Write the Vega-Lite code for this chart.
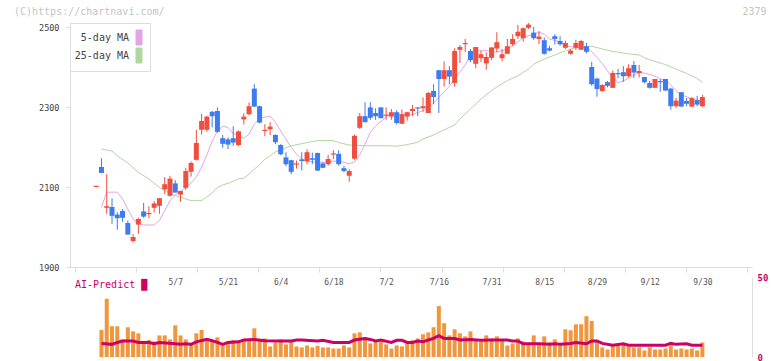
{
  "$schema": "https://vega.github.io/schema/vega-lite/v6.json",
  "background": "white",
  "padding": {"left": 14, "top": 6, "right": 2, "bottom": 2},
  "spacing": 0,
  "config": {
    "view": {"stroke": null},
    "font": "DejaVu Sans Mono",
    "axis": {"labelFont": "DejaVu Sans Mono", "grid": false, "titleFont": "DejaVu Sans Mono"},
    "legend": {"labelFont": "DejaVu Sans Mono"},
    "title": {"font": "DejaVu Sans Mono", "fontWeight": "normal"}
  },
  "datasets": {
    "candles": [
      {"i":0,"o":2100,"h":2103,"l":2100,"c":2103},
      {"i":1,"o":2150,"h":2172,"l":2135,"c":2135},
      {"i":2,"o":2048,"h":2132,"l":2033,"c":2052},
      {"i":3,"o":2050,"h":2072,"l":2008,"c":2028},
      {"i":4,"o":2031,"h":2037,"l":1993,"c":2022},
      {"i":5,"o":2040,"h":2045,"l":2013,"c":2023},
      {"i":6,"o":2010,"h":2016,"l":1981,"c":1981},
      {"i":7,"o":1965,"h":1982,"l":1961,"c":1975},
      {"i":8,"o":2006,"h":2023,"l":1983,"c":2020},
      {"i":9,"o":2039,"h":2060,"l":2023,"c":2026},
      {"i":10,"o":2032,"h":2052,"l":2022,"c":2035},
      {"i":11,"o":2048,"h":2065,"l":2036,"c":2059},
      {"i":12,"o":2053,"h":2072,"l":2033,"c":2072},
      {"i":13,"o":2094,"h":2125,"l":2082,"c":2107},
      {"i":14,"o":2078,"h":2128,"l":2076,"c":2121},
      {"i":15,"o":2109,"h":2117,"l":2086,"c":2086},
      {"i":16,"o":2081,"h":2090,"l":2063,"c":2090},
      {"i":17,"o":2098,"h":2148,"l":2093,"c":2140},
      {"i":18,"o":2138,"h":2164,"l":2126,"c":2160},
      {"i":19,"o":2168,"h":2243,"l":2166,"c":2210},
      {"i":20,"o":2243,"h":2283,"l":2231,"c":2265},
      {"i":21,"o":2243,"h":2278,"l":2238,"c":2276},
      {"i":22,"o":2288,"h":2290,"l":2249,"c":2277},
      {"i":23,"o":2290,"h":2299,"l":2236,"c":2238},
      {"i":24,"o":2222,"h":2230,"l":2198,"c":2208},
      {"i":25,"o":2219,"h":2224,"l":2195,"c":2206},
      {"i":26,"o":2222,"h":2252,"l":2203,"c":2211},
      {"i":27,"o":2205,"h":2241,"l":2202,"c":2239},
      {"i":28,"o":2269,"h":2284,"l":2256,"c":2276},
      {"i":29,"o":2282,"h":2311,"l":2279,"c":2302},
      {"i":30,"o":2346,"h":2357,"l":2300,"c":2301},
      {"i":31,"o":2302,"h":2303,"l":2259,"c":2261},
      {"i":32,"o":2240,"h":2257,"l":2227,"c":2243},
      {"i":33,"o":2244,"h":2262,"l":2230,"c":2251},
      {"i":34,"o":2230,"h":2232,"l":2207,"c":2212},
      {"i":35,"o":2205,"h":2207,"l":2180,"c":2182},
      {"i":36,"o":2174,"h":2187,"l":2152,"c":2157},
      {"i":37,"o":2167,"h":2167,"l":2132,"c":2138},
      {"i":38,"o":2156,"h":2166,"l":2146,"c":2159},
      {"i":39,"o":2169,"h":2187,"l":2141,"c":2165},
      {"i":40,"o":2164,"h":2194,"l":2157,"c":2187},
      {"i":41,"o":2172,"h":2186,"l":2157,"c":2168},
      {"i":42,"o":2185,"h":2186,"l":2140,"c":2141},
      {"i":43,"o":2159,"h":2162,"l":2147,"c":2148},
      {"i":44,"o":2157,"h":2180,"l":2153,"c":2170},
      {"i":45,"o":2181,"h":2192,"l":2170,"c":2184},
      {"i":46,"o":2183,"h":2192,"l":2153,"c":2157},
      {"i":47,"o":2147,"h":2153,"l":2137,"c":2140},
      {"i":48,"o":2128,"h":2145,"l":2113,"c":2140},
      {"i":49,"o":2171,"h":2231,"l":2168,"c":2228},
      {"i":50,"o":2248,"h":2285,"l":2245,"c":2277},
      {"i":51,"o":2277,"h":2312,"l":2262,"c":2262},
      {"i":52,"o":2299,"h":2312,"l":2268,"c":2273},
      {"i":53,"o":2285,"h":2297,"l":2268,"c":2277},
      {"i":54,"o":2299,"h":2299,"l":2272,"c":2272},
      {"i":55,"o":2278,"h":2299,"l":2268,"c":2281},
      {"i":56,"o":2276,"h":2295,"l":2268,"c":2287},
      {"i":57,"o":2287,"h":2292,"l":2256,"c":2260},
      {"i":58,"o":2258,"h":2294,"l":2258,"c":2282},
      {"i":59,"o":2276,"h":2288,"l":2266,"c":2287},
      {"i":60,"o":2290,"h":2305,"l":2277,"c":2295},
      {"i":61,"o":2299,"h":2299,"l":2277,"c":2296},
      {"i":62,"o":2297,"h":2324,"l":2288,"c":2302},
      {"i":63,"o":2285,"h":2338,"l":2285,"c":2335},
      {"i":64,"o":2340,"h":2357,"l":2307,"c":2325},
      {"i":65,"o":2392,"h":2392,"l":2285,"c":2370},
      {"i":66,"o":2370,"h":2414,"l":2351,"c":2392},
      {"i":67,"o":2392,"h":2402,"l":2357,"c":2376},
      {"i":68,"o":2360,"h":2447,"l":2351,"c":2440},
      {"i":69,"o":2443,"h":2455,"l":2410,"c":2450},
      {"i":70,"o":2457,"h":2470,"l":2437,"c":2460},
      {"i":71,"o":2440,"h":2445,"l":2412,"c":2417},
      {"i":72,"o":2408,"h":2450,"l":2397,"c":2450},
      {"i":73,"o":2422,"h":2441,"l":2412,"c":2432},
      {"i":74,"o":2409,"h":2437,"l":2393,"c":2425},
      {"i":75,"o":2423,"h":2449,"l":2417,"c":2449},
      {"i":76,"o":2446,"h":2487,"l":2437,"c":2462},
      {"i":77,"o":2422,"h":2445,"l":2414,"c":2432},
      {"i":78,"o":2433,"h":2470,"l":2433,"c":2452},
      {"i":79,"o":2457,"h":2482,"l":2452,"c":2470},
      {"i":80,"o":2477,"h":2505,"l":2470,"c":2488},
      {"i":81,"o":2472,"h":2499,"l":2463,"c":2497},
      {"i":82,"o":2498,"h":2510,"l":2495,"c":2506},
      {"i":83,"o":2486,"h":2500,"l":2468,"c":2472},
      {"i":84,"o":2470,"h":2490,"l":2457,"c":2476},
      {"i":85,"o":2467,"h":2474,"l":2431,"c":2433},
      {"i":86,"o":2447,"h":2453,"l":2439,"c":2441},
      {"i":87,"o":2477,"h":2482,"l":2456,"c":2470},
      {"i":88,"o":2465,"h":2477,"l":2453,"c":2457},
      {"i":89,"o":2448,"h":2466,"l":2445,"c":2460},
      {"i":90,"o":2433,"h":2445,"l":2431,"c":2441},
      {"i":91,"o":2448,"h":2468,"l":2443,"c":2460},
      {"i":92,"o":2443,"h":2468,"l":2443,"c":2465},
      {"i":93,"o":2452,"h":2460,"l":2434,"c":2438},
      {"i":94,"o":2400,"h":2413,"l":2353,"c":2357},
      {"i":95,"o":2371,"h":2373,"l":2326,"c":2345},
      {"i":96,"o":2340,"h":2357,"l":2338,"c":2355},
      {"i":97,"o":2362,"h":2365,"l":2349,"c":2353},
      {"i":98,"o":2348,"h":2391,"l":2348,"c":2385},
      {"i":99,"o":2385,"h":2395,"l":2372,"c":2382},
      {"i":100,"o":2387,"h":2402,"l":2363,"c":2377},
      {"i":101,"o":2377,"h":2407,"l":2374,"c":2397},
      {"i":102,"o":2405,"h":2415,"l":2373,"c":2386},
      {"i":103,"o":2385,"h":2405,"l":2374,"c":2390},
      {"i":104,"o":2375,"h":2375,"l":2359,"c":2362},
      {"i":105,"o":2360,"h":2365,"l":2346,"c":2348},
      {"i":106,"o":2348,"h":2370,"l":2348,"c":2370},
      {"i":107,"o":2365,"h":2370,"l":2338,"c":2362},
      {"i":108,"o":2370,"h":2370,"l":2341,"c":2341},
      {"i":109,"o":2346,"h":2348,"l":2293,"c":2302},
      {"i":110,"o":2302,"h":2323,"l":2298,"c":2316},
      {"i":111,"o":2337,"h":2337,"l":2301,"c":2301},
      {"i":112,"o":2315,"h":2323,"l":2302,"c":2308},
      {"i":113,"o":2301,"h":2325,"l":2300,"c":2322},
      {"i":114,"o":2317,"h":2328,"l":2302,"c":2306},
      {"i":115,"o":2302,"h":2330,"l":2300,"c":2325}
    ],
    "ma": [
      {"s":"5-day MA","i":1,"v":2049},{"s":"5-day MA","i":2,"v":2087},{"s":"5-day MA","i":4,"v":2087},{"s":"5-day MA","i":5,"v":2070},
      {"s":"5-day MA","i":6,"v":2045},{"s":"5-day MA","i":7,"v":2020},{"s":"5-day MA","i":8,"v":2008},{"s":"5-day MA","i":9,"v":2005},
      {"s":"5-day MA","i":11,"v":2005},{"s":"5-day MA","i":12,"v":2016},{"s":"5-day MA","i":13,"v":2041},{"s":"5-day MA","i":14,"v":2066},
      {"s":"5-day MA","i":15,"v":2080},{"s":"5-day MA","i":16,"v":2090},{"s":"5-day MA","i":17,"v":2098},{"s":"5-day MA","i":18,"v":2110},
      {"s":"5-day MA","i":19,"v":2125},{"s":"5-day MA","i":20,"v":2150},{"s":"5-day MA","i":21,"v":2180},{"s":"5-day MA","i":22,"v":2215},
      {"s":"5-day MA","i":23,"v":2240},{"s":"5-day MA","i":24,"v":2252},{"s":"5-day MA","i":25,"v":2249},{"s":"5-day MA","i":26,"v":2234},
      {"s":"5-day MA","i":28,"v":2222},{"s":"5-day MA","i":29,"v":2232},{"s":"5-day MA","i":30,"v":2257},{"s":"5-day MA","i":31,"v":2272},
      {"s":"5-day MA","i":33,"v":2277},{"s":"5-day MA","i":34,"v":2262},{"s":"5-day MA","i":35,"v":2240},{"s":"5-day MA","i":36,"v":2220},
      {"s":"5-day MA","i":37,"v":2199},{"s":"5-day MA","i":38,"v":2182},{"s":"5-day MA","i":39,"v":2170},{"s":"5-day MA","i":40,"v":2164},
      {"s":"5-day MA","i":42,"v":2162},{"s":"5-day MA","i":44,"v":2162},{"s":"5-day MA","i":45,"v":2165},{"s":"5-day MA","i":47,"v":2162},
      {"s":"5-day MA","i":48,"v":2158},{"s":"5-day MA","i":49,"v":2163},{"s":"5-day MA","i":50,"v":2180},{"s":"5-day MA","i":51,"v":2207},
      {"s":"5-day MA","i":52,"v":2237},{"s":"5-day MA","i":53,"v":2252},{"s":"5-day MA","i":55,"v":2275},{"s":"5-day MA","i":56,"v":2282},
      {"s":"5-day MA","i":58,"v":2281},{"s":"5-day MA","i":60,"v":2281},{"s":"5-day MA","i":62,"v":2291},{"s":"5-day MA","i":63,"v":2297},
      {"s":"5-day MA","i":64,"v":2310},{"s":"5-day MA","i":66,"v":2337},{"s":"5-day MA","i":67,"v":2352},{"s":"5-day MA","i":69,"v":2388},
      {"s":"5-day MA","i":70,"v":2405},{"s":"5-day MA","i":71,"v":2430},{"s":"5-day MA","i":72,"v":2440},{"s":"5-day MA","i":74,"v":2441},
      {"s":"5-day MA","i":76,"v":2437},{"s":"5-day MA","i":78,"v":2445},{"s":"5-day MA","i":80,"v":2462},{"s":"5-day MA","i":81,"v":2474},
      {"s":"5-day MA","i":83,"v":2482},{"s":"5-day MA","i":84,"v":2487},{"s":"5-day MA","i":85,"v":2482},{"s":"5-day MA","i":86,"v":2470},
      {"s":"5-day MA","i":88,"v":2463},{"s":"5-day MA","i":89,"v":2453},{"s":"5-day MA","i":91,"v":2449},{"s":"5-day MA","i":93,"v":2449},
      {"s":"5-day MA","i":94,"v":2438},{"s":"5-day MA","i":95,"v":2424},{"s":"5-day MA","i":96,"v":2409},{"s":"5-day MA","i":97,"v":2390},
      {"s":"5-day MA","i":98,"v":2374},{"s":"5-day MA","i":99,"v":2361},{"s":"5-day MA","i":100,"v":2365},{"s":"5-day MA","i":102,"v":2380},
      {"s":"5-day MA","i":103,"v":2386},{"s":"5-day MA","i":104,"v":2385},{"s":"5-day MA","i":106,"v":2377},{"s":"5-day MA","i":107,"v":2371},
      {"s":"5-day MA","i":108,"v":2366},{"s":"5-day MA","i":109,"v":2355},{"s":"5-day MA","i":110,"v":2341},{"s":"5-day MA","i":111,"v":2330},
      {"s":"5-day MA","i":112,"v":2326},{"s":"5-day MA","i":113,"v":2320},{"s":"5-day MA","i":114,"v":2317},{"s":"5-day MA","i":115,"v":2316},
      {"s":"25-day MA","i":1,"v":2195},{"s":"25-day MA","i":3,"v":2190},{"s":"25-day MA","i":4,"v":2178},{"s":"25-day MA","i":6,"v":2160},
      {"s":"25-day MA","i":8,"v":2137},{"s":"25-day MA","i":10,"v":2120},{"s":"25-day MA","i":12,"v":2099},{"s":"25-day MA","i":14,"v":2084},
      {"s":"25-day MA","i":15,"v":2079},{"s":"25-day MA","i":17,"v":2070},{"s":"25-day MA","i":18,"v":2066},{"s":"25-day MA","i":20,"v":2066},
      {"s":"25-day MA","i":22,"v":2085},{"s":"25-day MA","i":23,"v":2099},{"s":"25-day MA","i":24,"v":2105},{"s":"25-day MA","i":25,"v":2109},
      {"s":"25-day MA","i":27,"v":2120},{"s":"25-day MA","i":28,"v":2122},{"s":"25-day MA","i":29,"v":2132},{"s":"25-day MA","i":30,"v":2145},
      {"s":"25-day MA","i":31,"v":2155},{"s":"25-day MA","i":32,"v":2170},{"s":"25-day MA","i":33,"v":2178},{"s":"25-day MA","i":34,"v":2188},
      {"s":"25-day MA","i":35,"v":2193},{"s":"25-day MA","i":37,"v":2203},{"s":"25-day MA","i":40,"v":2211},{"s":"25-day MA","i":42,"v":2216},
      {"s":"25-day MA","i":45,"v":2216},{"s":"25-day MA","i":46,"v":2211},{"s":"25-day MA","i":48,"v":2205},{"s":"25-day MA","i":51,"v":2203},
      {"s":"25-day MA","i":55,"v":2203},{"s":"25-day MA","i":57,"v":2202},{"s":"25-day MA","i":59,"v":2206},{"s":"25-day MA","i":61,"v":2212},
      {"s":"25-day MA","i":62,"v":2220},{"s":"25-day MA","i":64,"v":2230},{"s":"25-day MA","i":66,"v":2243},{"s":"25-day MA","i":68,"v":2255},
      {"s":"25-day MA","i":69,"v":2270},{"s":"25-day MA","i":71,"v":2295},{"s":"25-day MA","i":73,"v":2320},{"s":"25-day MA","i":75,"v":2341},
      {"s":"25-day MA","i":76,"v":2350},{"s":"25-day MA","i":78,"v":2366},{"s":"25-day MA","i":80,"v":2378},{"s":"25-day MA","i":82,"v":2395},
      {"s":"25-day MA","i":83,"v":2407},{"s":"25-day MA","i":85,"v":2420},{"s":"25-day MA","i":87,"v":2430},{"s":"25-day MA","i":89,"v":2441},
      {"s":"25-day MA","i":91,"v":2448},{"s":"25-day MA","i":94,"v":2452},{"s":"25-day MA","i":96,"v":2445},{"s":"25-day MA","i":98,"v":2439},
      {"s":"25-day MA","i":100,"v":2435},{"s":"25-day MA","i":101,"v":2433},{"s":"25-day MA","i":103,"v":2430},{"s":"25-day MA","i":104,"v":2423},
      {"s":"25-day MA","i":106,"v":2414},{"s":"25-day MA","i":108,"v":2406},{"s":"25-day MA","i":110,"v":2395},{"s":"25-day MA","i":112,"v":2384},
      {"s":"25-day MA","i":114,"v":2371},{"s":"25-day MA","i":115,"v":2362}
    ],
    "vol": [
      {"i":1,"v":16.9},{"i":2,"v":36.4},{"i":3,"v":19.2},{"i":4,"v":19.2},{"i":5,"v":11.0},{"i":6,"v":18.6},{"i":7,"v":16.0},{"i":8,"v":14.8},
      {"i":9,"v":9.1},{"i":10,"v":10.6},{"i":11,"v":9.7},{"i":12,"v":13.5},{"i":13,"v":13.5},{"i":14,"v":11.0},{"i":15,"v":19.8},{"i":16,"v":13.5},
      {"i":17,"v":11.0},{"i":18,"v":7.0},{"i":19,"v":14.8},{"i":20,"v":16.9},{"i":21,"v":11.0},{"i":22,"v":9.7},{"i":23,"v":12.3},{"i":24,"v":7.2},
      {"i":25,"v":9.7},{"i":26,"v":10.6},{"i":27,"v":9.7},{"i":28,"v":10.4},{"i":29,"v":11.0},{"i":30,"v":17.9},{"i":31,"v":10.4},{"i":32,"v":11.6},
      {"i":33,"v":6.6},{"i":34,"v":9.1},{"i":35,"v":11.0},{"i":36,"v":7.9},{"i":37,"v":9.7},{"i":38,"v":6.6},{"i":39,"v":6.0},{"i":40,"v":7.2},
      {"i":41,"v":6.0},{"i":42,"v":7.0},{"i":43,"v":6.0},{"i":44,"v":6.0},{"i":45,"v":5.3},{"i":46,"v":5.3},{"i":47,"v":7.2},{"i":48,"v":6.0},
      {"i":49,"v":14.8},{"i":50,"v":15.4},{"i":51,"v":12.3},{"i":52,"v":8.5},{"i":53,"v":9.7},{"i":54,"v":9.7},{"i":55,"v":7.9},{"i":56,"v":5.3},
      {"i":57,"v":7.2},{"i":58,"v":6.6},{"i":59,"v":8.5},{"i":60,"v":10.4},{"i":61,"v":11.6},{"i":62,"v":14.2},{"i":63,"v":15.4},{"i":64,"v":18.6},
      {"i":65,"v":31.8},{"i":66,"v":21.1},{"i":67,"v":13.5},{"i":68,"v":17.3},{"i":69,"v":14.8},{"i":70,"v":12.9},{"i":71,"v":16.0},{"i":72,"v":10.4},
      {"i":73,"v":9.7},{"i":74,"v":13.5},{"i":75,"v":11.6},{"i":76,"v":12.9},{"i":77,"v":10.4},{"i":78,"v":7.2},{"i":79,"v":8.5},{"i":80,"v":11.6},
      {"i":81,"v":9.7},{"i":82,"v":7.9},{"i":83,"v":13.5},{"i":84,"v":8.5},{"i":85,"v":12.9},{"i":86,"v":9.1},{"i":87,"v":11.0},{"i":88,"v":7.9},
      {"i":89,"v":17.3},{"i":90,"v":16.7},{"i":91,"v":20.4},{"i":92,"v":20.4},{"i":93,"v":25.5},{"i":94,"v":22.5},{"i":95,"v":9.7},{"i":96,"v":6.0},
      {"i":97,"v":4.7},{"i":98,"v":7.2},{"i":99,"v":7.9},{"i":100,"v":7.9},{"i":101,"v":6.6},{"i":102,"v":6.0},{"i":103,"v":6.0},{"i":104,"v":4.1},
      {"i":105,"v":6.0},{"i":106,"v":4.7},{"i":107,"v":4.7},{"i":108,"v":5.3},{"i":109,"v":7.2},{"i":110,"v":4.7},{"i":111,"v":5.3},{"i":112,"v":4.7},
      {"i":113,"v":5.3},{"i":114,"v":4.1},{"i":115,"v":9.1}
    ],
    "ai": [
      {"i":1,"v":8.5},{"i":3,"v":7.9},{"i":4,"v":9.1},{"i":5,"v":10},{"i":7,"v":10},{"i":8,"v":9.1},{"i":10,"v":9.1},{"i":11,"v":8.3},
      {"i":12,"v":9.1},{"i":15,"v":8.3},{"i":16,"v":7.9},{"i":17,"v":8.3},{"i":18,"v":7.9},{"i":19,"v":9.5},{"i":21,"v":11.0},{"i":22,"v":10.2},
      {"i":23,"v":9.1},{"i":24,"v":7.9},{"i":25,"v":9.1},{"i":27,"v":9.5},{"i":28,"v":10.6},{"i":30,"v":11.0},{"i":32,"v":10.2},{"i":35,"v":10},
      {"i":37,"v":10},{"i":38,"v":10.6},{"i":39,"v":10.6},{"i":42,"v":10},{"i":43,"v":10.4},{"i":45,"v":9.1},{"i":48,"v":9.1},{"i":49,"v":10.6},
      {"i":51,"v":11.6},{"i":52,"v":11.0},{"i":53,"v":10},{"i":54,"v":10.6},{"i":56,"v":9.1},{"i":57,"v":10.4},{"i":58,"v":10.4},{"i":59,"v":9.1},
      {"i":60,"v":9.1},{"i":61,"v":10},{"i":62,"v":9.5},{"i":63,"v":10.6},{"i":64,"v":11.6},{"i":65,"v":13.3},{"i":66,"v":11.6},{"i":68,"v":11.6},
      {"i":69,"v":10.6},{"i":71,"v":11.0},{"i":73,"v":10.4},{"i":75,"v":10.6},{"i":76,"v":10.6},{"i":78,"v":10.6},{"i":79,"v":10},{"i":80,"v":10},
      {"i":81,"v":8.3},{"i":84,"v":8.3},{"i":86,"v":7.9},{"i":87,"v":8.3},{"i":88,"v":7.9},{"i":90,"v":8.5},{"i":91,"v":9.1},{"i":93,"v":8.3},
      {"i":94,"v":10},{"i":95,"v":10},{"i":96,"v":8.5},{"i":98,"v":7.4},{"i":100,"v":8.3},{"i":101,"v":7.4},{"i":108,"v":7.4},{"i":109,"v":8.5},
      {"i":110,"v":7.9},{"i":112,"v":8.3},{"i":113,"v":7.4},{"i":115,"v":7.4}
    ]
  },
  "vconcat": [
    {
      "width": 682,
      "height": 244,
      "title": {
        "text": "(C)https://chartnavi.com/\u00a0\u00a0\u00a0\u00a0\u00a0\u00a0\u00a0\u00a0\u00a0\u00a0\u00a0\u00a0\u00a0\u00a0\u00a0\u00a0\u00a0\u00a0\u00a0\u00a0\u00a0\u00a0\u00a0\u00a0\u00a0\u00a0\u00a0\u00a0\u00a0\u00a0\u00a0\u00a0\u00a0\u00a0\u00a0\u00a0\u00a0\u00a0\u00a0\u00a0\u00a0\u00a0\u00a0\u00a0\u00a0\u00a0\u00a0\u00a0\u00a0\u00a0\u00a0\u00a0\u00a0\u00a0\u00a0\u00a0\u00a0\u00a0\u00a0\u00a0\u00a0\u00a0\u00a0\u00a0\u00a0\u00a0\u00a0\u00a0\u00a0\u00a0\u00a0\u00a0\u00a0\u00a0\u00a0\u00a0\u00a0\u00a0\u00a0\u00a0\u00a0\u00a0\u00a0\u00a0\u00a0\u00a0\u00a0\u00a0\u00a0\u00a0\u00a0\u00a0\u00a0\u00a0\u00a0\u00a02379",
        "anchor": "start",
        "frame": "group",
        "dx": -56,
        "offset": -2,
        "baseline": "alphabetic",
        "font": "DejaVu Sans Mono",
        "fontSize": 10,
        "fontWeight": "normal",
        "color": "#c4c4c4"
      },
      "layer": [
        {
          "data": {"name": "ma"},
          "mark": {"type": "line", "strokeWidth": 1},
          "encoding": {
            "x": {"field": "i", "type": "quantitative",
                  "scale": {"domain": [-4.02, 123.46], "nice": false, "zero": false},
                  "axis": {"title": null, "labels": false,
                           "values": [-4.02, 7.57, 19.16, 30.75, 42.34, 53.93, 65.51, 77.1, 88.69, 100.28, 111.87, 123.46],
                           "tickSize": 5, "tickColor": "#dddddd", "domainColor": "#dddddd"}},
            "y": {"field": "v", "type": "quantitative",
                  "scale": {"domain": [1900, 2510], "nice": false, "zero": false},
                  "axis": {"title": null, "values": [1900, 2100, 2300, 2500], "format": "d",
                           "tickSize": 4, "tickColor": "#dddddd", "domainColor": "#dddddd",
                           "labelColor": "#444444", "labelFontSize": 8.5, "labelPadding": 7}},
            "color": {"field": "s", "type": "nominal",
                      "scale": {"domain": ["5-day MA", "25-day MA"], "range": ["#e2a6e6", "#aed8a0"]},
                      "legend": {"orient": "top-left", "offset": 0, "title": null, "direction": "vertical",
                                 "padding": 6, "strokeColor": "#dddddd", "fillColor": "white",
                                 "labelFont": "DejaVu Sans Mono", "labelFontSize": 10, "labelColor": "#444444",
                                 "symbolType": "M-1,-2.5H1V2.5H-1Z", "symbolSize": 36,
                                 "rowPadding": -3,
                                 "encode": {"symbols": {"update": {"fill": {"scale": "color", "field": "value"},
                                                                   "stroke": {"value": "#555555"},
                                                                   "strokeWidth": {"value": 1},
                                                                   "x": {"value": 63}, "y": {"value": 8.5}}},
                                            "labels": {"update": {"x": {"value": 53}, "y": {"value": 8.5}, "align": {"value": "right"}}}}}}
          }
        },
        {
          "data": {"name": "candles"},
          "mark": {"type": "rule", "strokeWidth": 1},
          "encoding": {
            "x": {"field": "i", "type": "quantitative"},
            "y": {"field": "l", "type": "quantitative"},
            "y2": {"field": "h"},
            "color": {"condition": {"test": "datum.c >= datum.o", "value": "#f04e3e"}, "value": "#3d7cf0"}
          }
        },
        {
          "data": {"name": "candles"},
          "mark": {"type": "bar", "size": 5},
          "encoding": {
            "x": {"field": "i", "type": "quantitative"},
            "y": {"field": "o", "type": "quantitative"},
            "y2": {"field": "c"},
            "color": {"condition": {"test": "datum.c >= datum.o", "value": "#f04e3e"}, "value": "#3d7cf0"}
          }
        }
      ]
    },
    {
      "width": 682,
      "height": 80,
      "title": {
        "text": "AI-Predict █",
        "anchor": "start",
        "frame": "group",
        "orient": "top",
        "offset": -11.5,
        "dx": 5,
        "dy": 13.5,
        "baseline": "alphabetic",
        "font": "DejaVu Sans Mono",
        "fontSize": 10,
        "fontWeight": "normal",
        "color": "#cc0066"
      },
      "layer": [
        {
          "data": {"name": "vol"},
          "mark": {"type": "bar", "size": 4, "color": "#f0963c"},
          "encoding": {
            "x": {"field": "i", "type": "quantitative",
                  "scale": {"domain": [-4.02, 123.46], "nice": false, "zero": false},
                  "axis": {"orient": "top", "title": null, "domain": false, "ticks": false, "tickSize": 0,
                           "minExtent": 0, "maxExtent": 0,
                           "values": [15, 25, 35, 45, 55, 65, 75, 85, 95, 105, 115],
                           "labelExpr": "['5/7','5/21','6/4','6/18','7/2','7/16','7/31','8/15','8/29','9/12','9/30'][round((datum.value-15)/10)]",
                           "labelPadding": -7.5, "labelBaseline": "alphabetic", "labelFontSize": 8,
                           "labelColor": "#555555", "labelFlush": false, "labelOverlap": false}},
            "y": {"field": "v", "type": "quantitative",
                  "scale": {"domain": [0, 50], "nice": false},
                  "axis": {"orient": "right", "title": null, "values": [0, 10, 20, 30, 40, 50],
                           "ticks": false, "labelPadding": 5, "labelColor": "#cc0066", "labelFontSize": 9,
                           "labelFontWeight": "bold", "domainColor": "#dddddd"}}
          }
        },
        {
          "data": {"name": "ai"},
          "mark": {"type": "line", "strokeWidth": 3, "color": "#cc0066"},
          "encoding": {
            "x": {"field": "i", "type": "quantitative"},
            "y": {"field": "v", "type": "quantitative"}
          }
        }
      ]
    }
  ]
}
